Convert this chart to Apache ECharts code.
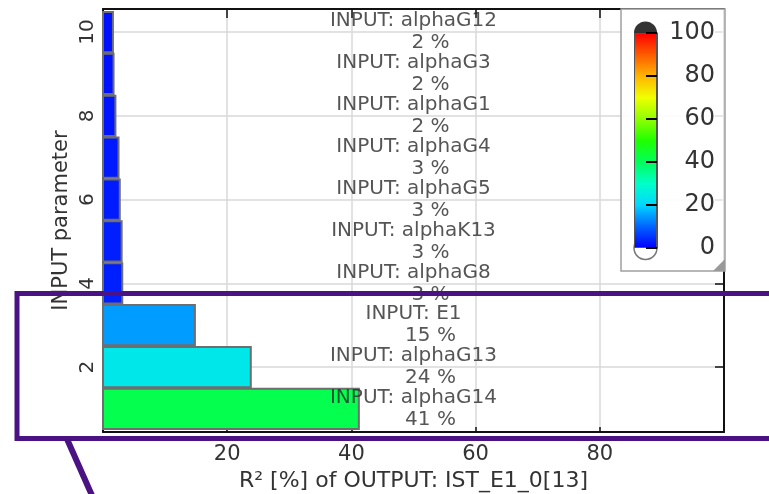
<!DOCTYPE html>
<html>
<head>
<meta charset="utf-8">
<script src="https://cdn.jsdelivr.net/npm/echarts@6/dist/echarts.min.js"></script>
<style>
  html, body { margin: 0; padding: 0; background: #fff; }
  #main { width: 769px; height: 494px; }
</style>
</head>
<body>
<div id="main"></div>
<script>
// input parameters, bottom (1) to top (10)
var paramNames = ['alphaG14', 'alphaG13', 'E1', 'alphaG8', 'alphaK13', 'alphaG5', 'alphaG4', 'alphaG1', 'alphaG3', 'alphaG12'];
var paramPos = [1, 2, 3, 4, 5, 6, 7, 8, 9, 10];
var r2Values = [41.2, 23.8, 14.8, 3.1, 3.0, 2.7, 2.5, 2.0, 1.7, 1.6];
// colour scale 0..100 (evenly spaced stops)
var scaleColors = ['#0000ff', '#0064ff', '#00d8ff', '#00ffc8', '#00ff5a', '#20ff00', '#90ff00', '#f0ff00', '#ffb400', '#ff5a00', '#ff0000'];

var labelX = 50;
var font = 'DejaVu Sans';

var chart = echarts.init(document.getElementById('main'), null, {renderer: 'canvas'});

var barData = [];
var labelData = [];
for (var i = 0; i < paramNames.length; i++) {
    barData.push([r2Values[i], paramPos[i]]);
    labelData.push([labelX, paramPos[i], paramNames[i], r2Values[i]]);
}

var gradStops = scaleColors.map(function (c, k) {
    return {offset: k / (scaleColors.length - 1), color: c};
});

function isWhole(v) {
    return Math.abs(v - Math.round(v)) < 1e-6;
}

var boxLine = {show: true, onZero: false, lineStyle: {color: '#111', width: 2}};

var option = {
    animation: false,
    textStyle: {fontFamily: font},
    grid: [
        {left: 103, top: 9, width: 621, height: 423, outerBoundsMode: 'none', containLabel: false},
        {left: 634, top: 33, width: 23, height: 215, outerBoundsMode: 'none', containLabel: false}
    ],
    xAxis: [
        {
            type: 'value', gridIndex: 0, min: 0, max: 100, interval: 20,
            name: 'R² [%] of OUTPUT: IST_E1_0[13]', nameLocation: 'middle', nameGap: 38,
            nameMoveOverlap: false,
            nameTextStyle: {fontSize: 22, color: '#333'},
            axisLine: boxLine,
            axisTick: {inside: true, length: 5, lineStyle: {color: '#111', width: 1.5}},
            axisLabel: {fontSize: 21, color: '#333', margin: 12, showMinLabel: false, showMaxLabel: false},
            splitLine: {lineStyle: {color: '#d9d9d9', width: 1.5}}
        },
        {
            type: 'value', gridIndex: 0, position: 'top', min: 0, max: 100, interval: 20,
            axisLine: boxLine,
            axisTick: {inside: true, length: 9, lineStyle: {color: '#111', width: 1.5}},
            axisLabel: {show: false},
            splitLine: {show: false}
        },
        {type: 'category', gridIndex: 1, data: ['c'], show: false}
    ],
    yAxis: [
        {
            type: 'value', gridIndex: 0, min: 0.45, max: 10.55, splitNumber: 5,
            name: 'INPUT parameter', nameLocation: 'middle', nameGap: 31,
            nameMoveOverlap: false,
            nameTextStyle: {fontSize: 21, color: '#333'},
            axisLine: boxLine,
            axisTick: {inside: true, length: 5, lineStyle: {color: '#111', width: 1.5}},
            axisLabel: {
                fontSize: 20, color: '#333', rotate: 90, margin: 5,
                formatter: function (v) { return isWhole(v) ? String(v) : ''; }
            },
            splitLine: {lineStyle: {color: '#d9d9d9', width: 1.5}}
        },
        {
            type: 'value', gridIndex: 0, position: 'right', min: 0.45, max: 10.55, splitNumber: 5,
            axisLine: boxLine,
            axisTick: {inside: true, length: 9, lineStyle: {color: '#111', width: 1.5}},
            axisLabel: {show: false},
            splitLine: {show: false}
        },
        {
            type: 'value', gridIndex: 1, position: 'right', min: 0, max: 100, interval: 20, z: 6,
            axisLine: {show: true, onZero: false, lineStyle: {color: '#555', width: 1}},
            axisTick: {show: true, inside: true, length: 11, lineStyle: {color: '#000', width: 2}},
            axisLabel: {fontSize: 24, color: '#333', align: 'right', margin: 58},
            splitLine: {show: false}
        }
    ],
    visualMap: {
        show: false, type: 'continuous', min: 0, max: 100, dimension: 0, seriesIndex: 0,
        inRange: {color: scaleColors}
    },
    graphic: [
        {
            type: 'rect', z: 1,
            shape: {x: 621, y: 9, width: 104, height: 262},
            style: {fill: 'rgba(255,255,255,0.88)', stroke: '#a0a0a0', lineWidth: 1.5}
        },
        {
            type: 'polygon', z: 1,
            shape: {points: [[725, 259], [725, 271], [713, 271]]},
            style: {fill: '#999'}
        },
        {
            type: 'rect', z: 10,
            shape: {x: 17, y: 293.5, width: 780, height: 145},
            style: {fill: 'none', stroke: '#4a1282', lineWidth: 5}
        },
        {
            type: 'line', z: 10,
            shape: {x1: 67, y1: 439, x2: 94, y2: 500},
            style: {stroke: '#4a1282', lineWidth: 6}
        }
    ],
    series: [
        {
            type: 'custom', xAxisIndex: 0, yAxisIndex: 0,
            data: barData,
            encode: {x: 0, y: 1},
            renderItem: function (params, api) {
                var y = api.value(1);
                var p0 = api.coord([0, y]);
                var p1 = api.coord([api.value(0), y]);
                var h = api.size([0, 1])[1] * 0.96;
                return {
                    type: 'rect',
                    shape: {x: p0[0], y: p0[1] - h / 2, width: p1[0] - p0[0], height: h},
                    style: {fill: api.visual('color'), stroke: '#6e6e6e', lineWidth: 2}
                };
            }
        },
        {
            type: 'scatter', xAxisIndex: 0, yAxisIndex: 0, z: 4,
            data: labelData, symbolSize: 0,
            label: {
                show: true, position: 'inside',
                formatter: function (p) {
                    return '{n|INPUT: ' + p.data[2] + '}\n{p|' + Math.round(p.data[3]) + ' %}';
                },
                rich: {
                    n: {fontSize: 20, lineHeight: 22, color: '#2a2a2a', fontFamily: font},
                    p: {fontSize: 20, lineHeight: 22, color: '#2a2a2a', fontFamily: font, padding: [0, 0, 0, 34]}
                }
            }
        },
        {
            type: 'scatter', xAxisIndex: 2, yAxisIndex: 2, z: 2, clip: false,
            symbolSize: 23, silent: true,
            data: [
                {value: ['c', 100], itemStyle: {color: '#000'}},
                {value: ['c', 0], itemStyle: {color: '#fff', borderColor: '#555', borderWidth: 1.5}}
            ]
        },
        {
            type: 'bar', xAxisIndex: 2, yAxisIndex: 2, z: 3,
            data: [100], barWidth: '100%',
            itemStyle: {
                color: new echarts.graphic.LinearGradient(0, 1, 0, 0, gradStops),
                borderColor: '#555', borderWidth: 1
            }
        }
    ]
};

chart.setOption(option);
</script>
</body>
</html>
